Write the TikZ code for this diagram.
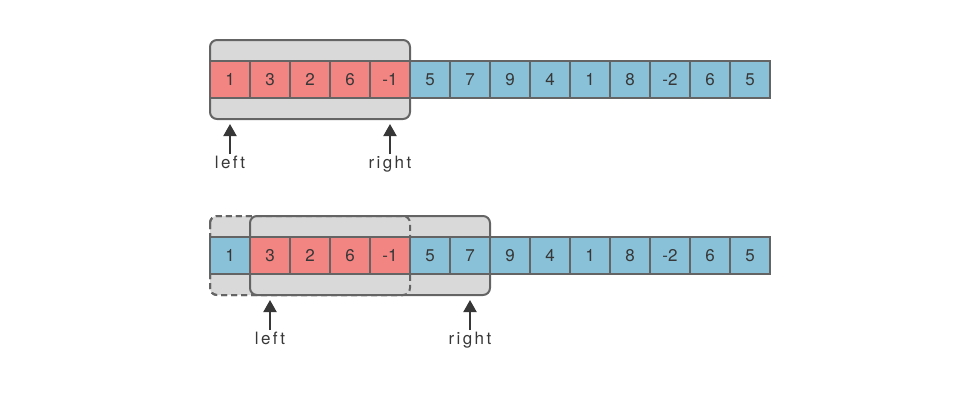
\documentclass[tikz,border=0pt]{standalone}
\usepackage{fontspec}
\setmainfont{TeX Gyre Heros}
\newfontfamily\ptrfont[LetterSpace=14]{TeX Gyre Heros}
\usetikzlibrary{positioning, arrows.meta}
\definecolor{cellred}{RGB}{242,132,130}
\definecolor{cellblue}{RGB}{137,193,216}
\definecolor{winfill}{RGB}{217,217,217}
\definecolor{edgegray}{RGB}{100,100,100}
\definecolor{inkgray}{RGB}{55,55,55}
\tikzset{
  cell/.style    = {draw=edgegray, line width=2pt, minimum width=40pt, minimum height=37pt, inner sep=0pt, font=\fontsize{17}{17}\selectfont, text=inkgray},
  redcell/.style = {cell, fill=cellred},
  bluecell/.style= {cell, fill=cellblue},
  window/.style  = {draw=edgegray, line width=2pt, fill=winfill, rounded corners=7pt},
  oldwindow/.style = {window, dash pattern=on 6pt off 4pt},
  ptr/.style     = {font=\ptrfont\fontsize{17}{17}\selectfont, text=inkgray, inner sep=2pt},
  arrow/.style   = {-{Triangle[width=13pt,length=12pt]}, line width=2pt, draw=inkgray}
}

\begin{document}
\begin{tikzpicture}[x=1pt, y=-1pt]
  \useasboundingbox (0,0) rectangle (980,392);

  % first window
  \draw[window] (210,40) rectangle (410,119);
  \foreach \v [count=\i] in {1,3,2,6,-1,5,7,9,4,1,8,-2,6,5} {
    \ifnum\i<6 \def\cs{redcell}\else\def\cs{bluecell}\fi
    \node[\cs] (a\i) at ({190+40*\i},79.5) {\v};
  }

  % second window, old position dashed
  \draw[oldwindow] (210,216) rectangle (410,295);
  \fill[winfill, rounded corners=7pt] (250,216) rectangle (490,295);
  \draw[oldwindow, fill=none] (210,216) rectangle (410,295);
  \draw[window, fill=none] (250,216) rectangle (490,295);
  \foreach \v [count=\i] in {1,3,2,6,-1,5,7,9,4,1,8,-2,6,5} {
    \ifnum\i>1 \ifnum\i<6 \def\cs{redcell}\else\def\cs{bluecell}\fi \else\def\cs{bluecell}\fi
    \node[\cs] (b\i) at ({190+40*\i},255.5) {\v};
  }

  % pointers
  \node[ptr, below=55pt of a1.south] (left1) {left};
  \node[ptr, below=55pt of a5.south] (right1) {right};
  \node[ptr, below=55pt of b2.south] (left2) {left};
  \node[ptr, below=55pt of b7.south] (right2) {right};
  \coordinate[below=25pt of a1.south] (lt1);
  \coordinate[below=25pt of a5.south] (rt1);
  \coordinate[below=25pt of b2.south] (lt2);
  \coordinate[below=25pt of b7.south] (rt2);

  \draw[arrow] (left1) -- (lt1);
  \draw[arrow] (right1) -- (rt1);
  \draw[arrow] (left2) -- (lt2);
  \draw[arrow] (right2) -- (rt2);
\end{tikzpicture}
\end{document}
